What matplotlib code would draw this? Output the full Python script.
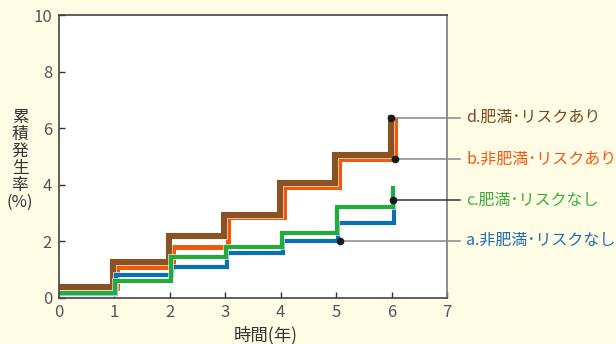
import matplotlib
matplotlib.use('Agg')
import matplotlib.pyplot as plt
import matplotlib.transforms as mtransforms
import matplotlib.patheffects as pe

plt.rcParams['font.family'] = ['Noto Sans CJK JP', 'DejaVu Sans']

years = [0, 1, 2, 3, 4, 5, 6]

# cumulative incidence (%) at the start of each year, last value = end of year 6
obese_risk = [0.40, 1.27, 2.19, 2.94, 4.07, 5.05, 6.37]      # d
nonobese_risk = [0.35, 1.11, 1.81, 2.85, 3.93, 4.91, 6.30]   # b
obese_norisk = [0.17, 0.61, 1.44, 1.81, 2.29, 3.23, 3.88]    # c
nonobese_norisk = [0.15, 0.81, 1.11, 1.58, 2.03, 2.66, 3.30] # a

labels = ['d.肥満･リスクあり', 'b.非肥満･リスクあり', 'c.肥満･リスクなし', 'a.非肥満･リスクなし']
label_y = [6.37, 4.91, 3.46, 2.03]
label_x = [6, 6, 6, 5]

colors = {'d': '#8a5324', 'b': '#ee5a0a', 'c': '#23ab3b', 'a': '#0b6fb8'}
text_colors = ['#7b4a1e', '#f05a10', '#3aae3a', '#1e6eb4']

fig = plt.figure(figsize=(6.16, 3.44), dpi=100, facecolor='#fffce6')
ax = fig.add_axes([59 / 616, 46 / 344, 388 / 616, 283 / 344])
ax.set_facecolor('white')

# small horizontal shifts (in pixels) so the step lines don't sit on top of each other
def shifted(dx_px):
    return ax.transData + mtransforms.ScaledTranslation(dx_px / 100, 0, fig.dpi_scale_trans)

series = [
    (nonobese_risk, colors['b'], 3.6, 3),
    (obese_risk, colors['d'], 4.4, -1),
    (nonobese_norisk, colors['a'], 3.0, 2),
    (obese_norisk, colors['c'], 3.0, 1),
]
for vals, col, lw, dx in series:
    ax.plot(years, vals, drawstyle='steps-post', color=col, lw=lw,
            solid_joinstyle='miter', transform=shifted(dx),
            path_effects=[pe.Stroke(linewidth=lw + 1.2, foreground='white', alpha=0.7), pe.Normal()])

ax.set_xlim(0, 7)
ax.set_ylim(0, 10)
ax.set_xticks(range(0, 8))
ax.set_yticks([0, 2, 4, 6, 8, 10])
ax.tick_params(direction='in', length=4, width=1, color='#333333',
               labelsize=12, labelcolor='#555555', pad=5)
ax.tick_params(axis='x', pad=4)
for side in ['left', 'bottom', 'top']:
    ax.spines[side].set_color('#444444')
    ax.spines[side].set_linewidth(1.2)
ax.spines['right'].set_color('#7a7a7a')
ax.spines['right'].set_linewidth(1.2)

# leader lines, dots and series labels on the right
blend = mtransforms.blended_transform_factory(ax.transAxes, ax.transData)
dot_dx = [-1, 3, 1, 4]
line_colors = ['#888888', '#888888', '#333333', '#888888']
for lab, xd, yd, ddx, tc, lc in zip(labels, label_x, label_y, dot_dx, text_colors, line_colors):
    xa = xd / 7 + ddx / 388
    ax.plot([xa, 1.033], [yd, yd], color=lc, lw=1.1, transform=blend, clip_on=False, zorder=5)
    ax.plot([xa], [yd], 'o', color='#1a1a1a', ms=4.5, transform=blend, clip_on=False, zorder=6)
    ax.text(1.049, yd, lab, color=tc, fontsize=11.5, va='center', ha='left', transform=blend)

fig.text(20 / 616, 0.535, '累\n積\n発\n生\n率\n(%)', ha='center', va='center',
         fontsize=12, color='#333333', linespacing=1.0)
fig.text(266 / 616, 9 / 344, '時間(年)', ha='center', va='center', fontsize=12.5, color='#333333')

fig.savefig('out.png', dpi=100, facecolor=fig.get_facecolor())
